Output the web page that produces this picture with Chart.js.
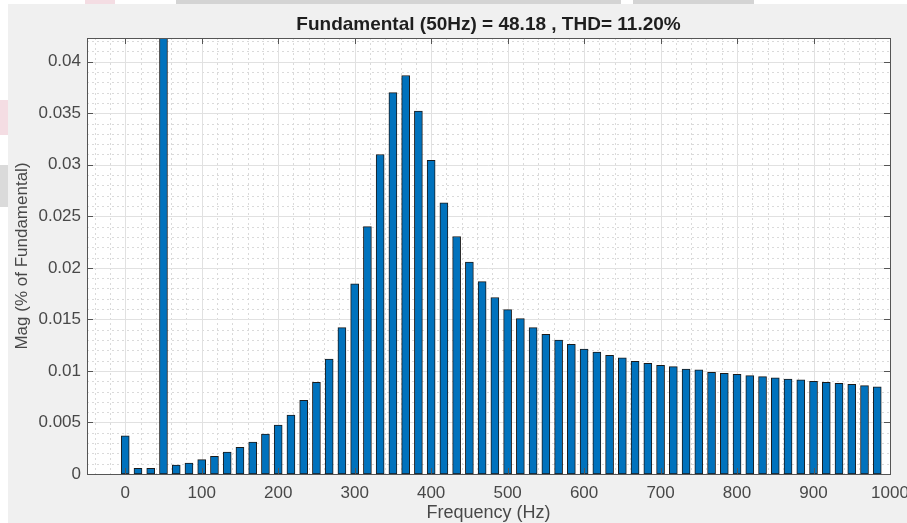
<!DOCTYPE html>
<html>
<head>
<meta charset="utf-8">
<script src="https://cdn.jsdelivr.net/npm/chart.js@4/dist/chart.umd.min.js"></script>
<style>
  html, body { margin: 0; padding: 0; background: #fff; }
  canvas { display: block; }
</style>
</head>
<body>
<canvas id="fftChart" width="907" height="523"></canvas>
<script>
// harmonic frequencies (Hz) and magnitudes
const freqs = [0, 16.67, 33.33, 50, 66.67, 83.33, 100, 116.67, 133.33, 150,
  166.67, 183.33, 200, 216.67, 233.33, 250, 266.67, 283.33, 300, 316.67,
  333.33, 350, 366.67, 383.33, 400, 416.67, 433.33, 450, 466.67, 483.33,
  500, 516.67, 533.33, 550, 566.67, 583.33, 600, 616.67, 633.33, 650,
  666.67, 683.33, 700, 716.67, 733.33, 750, 766.67, 783.33, 800, 816.67,
  833.33, 850, 866.67, 883.33, 900, 916.67, 933.33, 950, 966.67, 983.33];
const mags = [0.0037, 0.00054, 0.00054, 1, 0.00087, 0.00107, 0.00139, 0.00171, 0.00213, 0.00259,
  0.0031, 0.00388, 0.00475, 0.00572, 0.00715, 0.0089, 0.01116, 0.0142, 0.01845, 0.024,
  0.031, 0.037, 0.03866, 0.0352, 0.03042, 0.0263, 0.02304, 0.02055, 0.01867, 0.01712,
  0.01595, 0.01508, 0.0142, 0.01356, 0.013, 0.01259, 0.01213, 0.01184, 0.01152, 0.01126,
  0.01094, 0.01074, 0.01055, 0.01042, 0.01019, 0.0101, 0.00987, 0.00977, 0.00967, 0.00955,
  0.00945, 0.00932, 0.00922, 0.00913, 0.00899, 0.0089, 0.0088, 0.0087, 0.00857, 0.00845];

const xTicks = [0, 100, 200, 300, 400, 500, 600, 700, 800, 900, 1000];
const yTicks = [0, 0.005, 0.01, 0.015, 0.02, 0.025, 0.03, 0.035, 0.04];
const yTickLabels = ["0", "0.005", "0.01", "0.015", "0.02", "0.025", "0.03", "0.035", "0.04"];
const xMinorStep = 20;
const yMinorStep = 0.001;

const chartTitle = "Fundamental (50Hz) = 48.18 , THD= 11.20%";
const xTitle = "Frequency (Hz)";
const yTitle = "Mag (% of Fundamental)";

const FONT = "'Liberation Sans', Arial, Helvetica, sans-serif";

// page background, leftovers of the cropped document, white plot box
const backdrop = {
  id: "backdrop",
  beforeDraw(chart) {
    const ctx = chart.ctx;
    const a = chart.chartArea;
    ctx.save();
    ctx.fillStyle = "#ffffff";
    ctx.fillRect(0, 0, chart.width, chart.height);
    ctx.fillStyle = "#f0f0f0";
    ctx.fillRect(8, 4, chart.width - 8, chart.height - 4);
    ctx.fillStyle = "#d4d4d4";
    ctx.fillRect(176, 0, 445, 4);
    ctx.fillRect(633, 0, 121, 4);
    ctx.fillStyle = "#f4dde3";
    ctx.fillRect(85, 0, 30, 4);
    ctx.fillRect(0, 100, 8, 35);
    ctx.fillStyle = "#dadada";
    ctx.fillRect(0, 165, 8, 42);
    ctx.fillStyle = "#ffffff";
    ctx.fillRect(a.left, a.top, a.right - a.left, a.bottom - a.top);
    ctx.restore();
  }
};

// matlab-like grid: solid major lines, dotted minor lines
const gridLines = {
  id: "gridLines",
  beforeDatasetsDraw(chart) {
    const ctx = chart.ctx;
    const a = chart.chartArea;
    const xs = chart.scales.x, ys = chart.scales.y;
    ctx.save();
    ctx.lineWidth = 1;
    ctx.strokeStyle = "#dadada";
    ctx.setLineDash([2, 3]);
    ctx.beginPath();
    for (let v = -40; v < 1000; v += xMinorStep) {
      if (v % 100 === 0) continue;
      const px = Math.round(xs.getPixelForValue(v)) + 0.5;
      ctx.moveTo(px, a.top); ctx.lineTo(px, a.bottom);
    }
    for (let i = 1; i <= 42; i++) {
      if (i % 5 === 0) continue;
      const py = Math.round(ys.getPixelForValue(i * yMinorStep)) + 0.5;
      ctx.moveTo(a.left, py); ctx.lineTo(a.right, py);
    }
    ctx.stroke();
    ctx.setLineDash([]);
    ctx.strokeStyle = "#e1e1e1";
    ctx.beginPath();
    xTicks.forEach(v => {
      const px = Math.round(xs.getPixelForValue(v)) + 0.5;
      ctx.moveTo(px, a.top); ctx.lineTo(px, a.bottom);
    });
    yTicks.forEach(v => {
      const py = Math.round(ys.getPixelForValue(v)) + 0.5;
      ctx.moveTo(a.left, py); ctx.lineTo(a.right, py);
    });
    ctx.stroke();
    ctx.restore();
  }
};

// axes box with inward tick marks on all four sides
const axesBox = {
  id: "axesBox",
  afterDatasetsDraw(chart) {
    const ctx = chart.ctx;
    const a = chart.chartArea;
    const xs = chart.scales.x, ys = chart.scales.y;
    const tl = 6;
    ctx.save();
    ctx.strokeStyle = "#555555";
    ctx.lineWidth = 1;
    ctx.beginPath();
    xTicks.forEach(v => {
      const px = Math.round(xs.getPixelForValue(v)) + 0.5;
      ctx.moveTo(px, a.bottom); ctx.lineTo(px, a.bottom - tl);
      ctx.moveTo(px, a.top); ctx.lineTo(px, a.top + tl);
    });
    yTicks.forEach(v => {
      const py = Math.round(ys.getPixelForValue(v)) + 0.5;
      ctx.moveTo(a.left, py); ctx.lineTo(a.left + tl, py);
      ctx.moveTo(a.right, py); ctx.lineTo(a.right - tl, py);
    });
    ctx.stroke();
    ctx.strokeRect(Math.round(a.left) + 0.5, Math.round(a.top) + 0.5,
      Math.round(a.right - a.left), Math.round(a.bottom - a.top));
    ctx.restore();
  }
};

const config = {
  type: "bar",
  data: {
    datasets: [{
      data: freqs.map((f, i) => ({ x: f, y: mags[i] })),
      backgroundColor: "#0072bd",
      borderColor: "#1b1b1b",
      borderWidth: 1,
      borderSkipped: false,
      barThickness: 8
    }]
  },
  options: {
    responsive: false,
    devicePixelRatio: 1,
    animation: false,
    layout: { padding: { left: 0, right: 17, top: 0, bottom: 0 } },
    scales: {
      x: {
        type: "linear",
        min: -50,
        max: 1000,
        bounds: "data",
        offset: false,
        grid: { display: false, drawTicks: false },
        border: { display: false },
        afterBuildTicks: (s) => { s.ticks = xTicks.map(v => ({ value: v })); },
        afterFit: (s) => { s.height = 49; s.paddingLeft = 0; s.paddingRight = 0; },
        ticks: {
          autoSkip: false,
          maxRotation: 0,
          padding: 9,
          color: "#484848",
          font: { family: FONT, size: 17 },
          callback: (v) => String(v)
        },
        title: {
          display: true,
          text: xTitle,
          color: "#484848",
          font: { family: FONT, size: 18 },
          padding: { top: 0, bottom: -1 }
        }
      },
      y: {
        min: 0,
        max: 0.0423,
        bounds: "data",
        grid: { display: false, drawTicks: false },
        border: { display: false },
        afterBuildTicks: (s) => { s.ticks = yTicks.map(v => ({ value: v })); },
        afterFit: (s) => { s.width = 87; s.paddingTop = 0; s.paddingBottom = 0; },
        ticks: {
          autoSkip: false,
          padding: 6,
          color: "#484848",
          font: { family: FONT, size: 17 },
          callback: (v, i) => yTickLabels[i]
        },
        title: {
          display: true,
          text: yTitle,
          color: "#484848",
          font: { family: FONT, size: 17 },
          padding: { top: 12, bottom: 0 }
        }
      }
    },
    plugins: {
      legend: { display: false },
      tooltip: { enabled: false },
      title: {
        display: true,
        text: chartTitle,
        fullSize: false,
        color: "#1e1e1e",
        font: { family: FONT, size: 19, weight: "bold" },
        padding: { top: 13.6, bottom: 1.6 }
      }
    }
  },
  plugins: [backdrop, gridLines, axesBox]
};

new Chart(document.getElementById("fftChart"), config);
</script>
</body>
</html>
